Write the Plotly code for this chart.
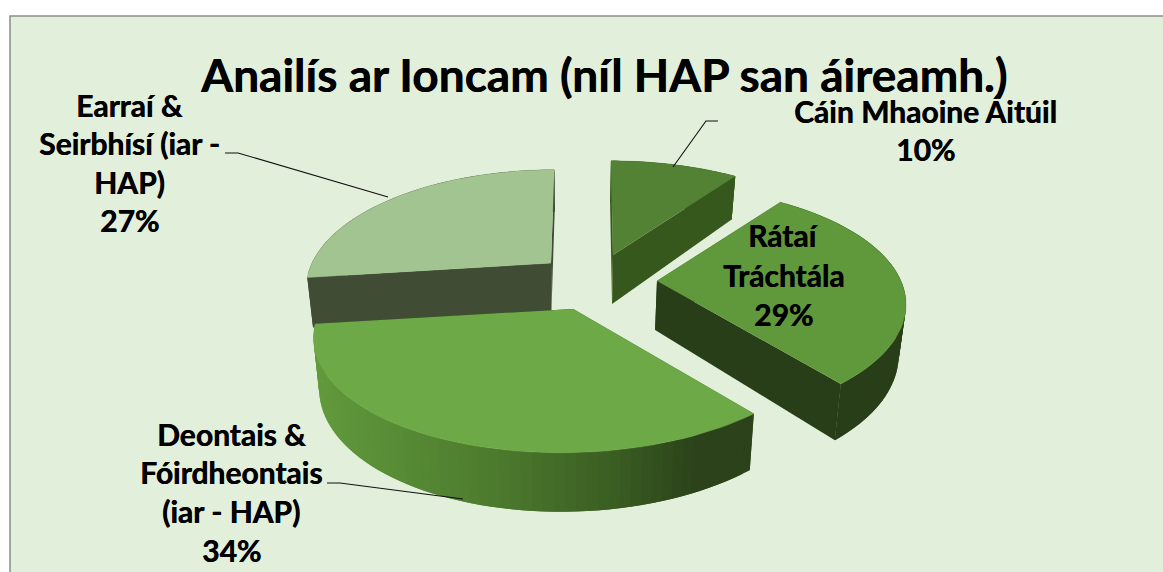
import numpy as np
import plotly.graph_objects as go

# ---- data (clockwise from the back of the pie) ----
categories = ["Cáin Mhaoine Áitúil", "Rátaí Tráchtála", "Deontais & Fóirdheontais (iar - HAP)", "Earraí & Seirbhísí (iar - HAP)"]
shares = [10, 29, 34, 27]
title_text = "Anailís ar Ioncam (níl HAP san áireamh.)"

# ---- styling ----
top_colors = ["#548235", "#60983C", "#6DA947", "#A2C491"]
wall_colors = ["#36581D", "#283E18", "#2B421A", "#414C35"]
label_lines = [["Cáin Mhaoine Áitúil", "10%"], ["Rátaí", "Tráchtála", "29%"],
               ["Deontais &", "Fóirdheontais", "(iar - HAP)", "34%"], ["Earraí &", "Seirbhísí (iar -", "HAP)", "27%"]]
label_x = [925, 783, 231, 129]
label_y = [[111, 149], [235, 275, 314], [434, 472, 511, 550], [105, 143, 182, 220]]
leaders = [([718, 706, 673], [121, 121, 167]), None, ([327, 340, 463], [483, 483, 499]), ([225, 238, 388], [153, 153, 197])]
# apex x, apex y, semi-axis x, semi-axis y, skew for each exploded slice
geometry = [(613, 255, 245, 113, 2.4), (657, 281, 244, 113, 0), (573, 309, 252, 115, -10), (551, 263, 239, 112, -4)]
P = 0.2
VX = 570
SHRINK = 0.978
FONT = "Lato"
TEXT_PX = 30
TITLE_PX = 46
TEXT_SHADOW = "0.5px 0 0 #000000"
DEONTAIS_STOPS = [(315, (0x62, 0x9A, 0x3D)), (400, (0x57, 0x8B, 0x35)), (500, (0x4C, 0x7A, 0x2E)),
                  (620, (0x3A, 0x5C, 0x22)), (700, (0x2B, 0x42, 0x1A)), (760, (0x2B, 0x42, 0x1A))]

fig = go.Figure()


def add_poly(xs, ys, color, width=0.0):
    fig.add_trace(go.Scatter(x=list(xs), y=list(ys), mode="lines", fill="toself", fillcolor=color,
                             line=dict(color=color, width=width), hoverinfo="skip", showlegend=False))


def project(theta, r, g):
    ax, ay, a, b, sk = g
    u, v = r * np.sin(theta), -r * np.cos(theta)
    k = 1 / (1 - P * v)
    return ax + (a * u + sk * v) * k, ay + b * v * k


def lower(x, y, theta, r):
    v = -r * np.cos(theta)
    k = 1 / (1 - 0.17 * v)
    return VX + (x - VX) * SHRINK, y + 49 * k


def side_color(i, x):
    if i != 2:
        return wall_colors[i]
    xs = [s[0] for s in DEONTAIS_STOPS]
    rgb = [np.interp(x, xs, [s[1][c] for s in DEONTAIS_STOPS]) for c in range(3)]
    return "rgb(%d,%d,%d)" % tuple(rgb)


edges = np.cumsum([0] + shares) / sum(shares) * 2 * np.pi
for i in [3, 0, 1, 2]:
    g = geometry[i]
    t0, t1 = edges[i], edges[i + 1]
    th = np.linspace(t0, t1, 61)
    xt, yt = project(th, 1.0, g)
    xb, yb = lower(xt, yt, th, 1.0)
    # flat cut walls
    ax0, ay0 = g[0], g[1]
    abx, aby = lower(ax0, ay0, 0.0, 0.0)
    for idx in (0, -1):
        add_poly([ax0, xt[idx], xb[idx], abx], [ay0, yt[idx], yb[idx], aby], wall_colors[i])
    # curved outer side, strip by strip (each strip overlaps the next to avoid seams)
    for j in range(len(th) - 1):
        e = min(j + 2, len(th) - 1)
        add_poly([xt[j], xt[e], xb[e], xb[j]], [yt[j], yt[e], yb[e], yb[j]],
                 side_color(i, (xt[j] + xt[j + 1]) / 2))
    # top face
    add_poly([ax0, *xt], [ay0, *yt], top_colors[i], 0.5)

for lead in leaders:
    if lead:
        fig.add_trace(go.Scatter(x=lead[0], y=lead[1], mode="lines", line=dict(color="#111111", width=1.1),
                                 hoverinfo="skip", showlegend=False))

annotations = [dict(x=603, y=74, text=title_text, showarrow=False, xref="x", yref="y",
                    font=dict(family=FONT, size=TITLE_PX, color="#000000", weight=700, shadow=TEXT_SHADOW))]
for lines, lx, lys in zip(label_lines, label_x, label_y):
    for line, ly in zip(lines, lys):
        annotations.append(dict(x=lx, y=ly, text=line, showarrow=False, xref="x", yref="y",
                                font=dict(family=FONT, size=TEXT_PX, color="#000000", weight=700, shadow=TEXT_SHADOW)))

fig.update_layout(
    width=1163, height=572, margin=dict(l=0, r=0, t=0, b=0),
    paper_bgcolor="#FFFFFF", plot_bgcolor="#FFFFFF", showlegend=False,
    xaxis=dict(range=[0, 1163], visible=False, fixedrange=True),
    yaxis=dict(range=[572, 0], visible=False, fixedrange=True),
    annotations=annotations,
    shapes=[dict(type="rect", xref="x", yref="y", x0=10, y0=16, x1=1170, y1=580, layer="below",
                 fillcolor="#E2EFDA", line=dict(color="#8C8C8C", width=1.5))],
)
fig.write_html("out.html", config=dict(displayModeBar=False),
               post_script="document.body.style.margin='0';document.documentElement.style.overflow='hidden';")
